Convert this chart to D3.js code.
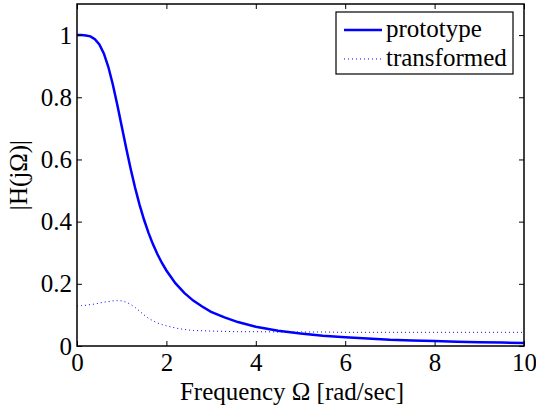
<!DOCTYPE html>
<html><head><meta charset="utf-8">
<script src="https://cdn.jsdelivr.net/npm/d3@7"></script>
<style>body{margin:0;background:#fff}svg{display:block}svg text{font-family:"Liberation Serif","Times New Roman",serif !important}</style>
</head><body><svg id="c" width="536" height="409"></svg>
<script>
const omega = [0,0.1,0.2,0.3,0.4,0.5,0.6,0.7,0.8,0.9,1.0,1.1,1.2,1.3,1.4,1.5,1.6,1.7,1.8,1.9,2.0,2.2,2.4,2.6,2.8,3.0,3.3,3.6,4.0,4.5,5.0,5.5,6.0,6.5,7.0,7.5,8.0,8.5,9.0,9.5,10.0];
const prototype = [1.000,1.000,0.999,0.996,0.987,0.970,0.941,0.898,0.842,0.777,0.707,0.637,0.570,0.509,0.454,0.406,0.364,0.327,0.295,0.267,0.243,0.202,0.171,0.146,0.127,0.110,0.092,0.077,0.062,0.049,0.040,0.033,0.028,0.024,0.020,0.018,0.016,0.014,0.012,0.011,0.010];
const transformed = [0.129,0.130,0.131,0.133,0.135,0.138,0.141,0.143,0.145,0.146,0.145,0.141,0.134,0.124,0.112,0.100,0.089,0.081,0.074,0.069,0.065,0.058,0.053,0.050,0.049,0.048,0.047,0.046,0.046,0.045,0.045,0.045,0.044,0.044,0.044,0.044,0.044,0.044,0.044,0.044,0.044];
const xTicks = [0,2,4,6,8,10];
const yTicks = [0,0.2,0.4,0.6,0.8,1];
const seriesNames = ["prototype","transformed"];

const svg = d3.select("#c");
const L=77,R=524,T=4,B=346;
const x = d3.scaleLinear().domain([0,10]).range([L,R]);
const y = d3.scaleLinear().domain([0,1.1]).range([B,T]);

const blue = "#0000ff";
const FS = 25;
const SERIF = '"Liberation Serif","Times New Roman",serif';
const line = d3.line().x((d,i)=>x(omega[i])).y(d=>y(d));
svg.append("path").datum(transformed).attr("d",line).attr("fill","none")
  .attr("stroke",blue).attr("stroke-width",1).attr("stroke-dasharray","1,3");
svg.append("path").datum(prototype).attr("d",line).attr("fill","none")
  .attr("stroke",blue).attr("stroke-width",2.5);

// axes box
svg.append("rect").attr("x",L).attr("y",T).attr("width",R-L).attr("height",B-T)
  .attr("fill","none").attr("stroke","#000").attr("stroke-width",1.5);

const tk=5;
const gx = svg.append("g").attr("transform",`translate(0,${B})`)
  .call(d3.axisBottom(x).tickValues(xTicks).tickSize(-tk).tickPadding(7).tickFormat(d3.format("d")));
const gxt = svg.append("g").attr("transform",`translate(0,${T})`)
  .call(d3.axisTop(x).tickValues(xTicks).tickSize(-tk).tickFormat(""));
const gy = svg.append("g").attr("transform",`translate(${L},0)`)
  .call(d3.axisLeft(y).tickValues(yTicks).tickSize(-tk).tickPadding(5).tickFormat(d=>d===0?"0":d===1?"1":d3.format(".1f")(d)));
const gyr = svg.append("g").attr("transform",`translate(${R},0)`)
  .call(d3.axisRight(y).tickValues(yTicks).tickSize(-tk).tickFormat(""));
[gx,gxt,gy,gyr].forEach(g=>{g.select(".domain").remove();
  g.attr("font-family",SERIF).attr("font-size",FS);
  g.selectAll(".tick line").attr("stroke","#000");
  g.selectAll("text").attr("font-size",FS).attr("fill","#000").style("font-family",SERIF);});

svg.append("text").attr("x",292).attr("y",400).attr("text-anchor","middle")
  .attr("font-size",FS).style("font-family",SERIF).text("Frequency Ω [rad/sec]");
svg.append("text").attr("transform",`translate(27,${(T+B)/2}) rotate(-90)`).attr("text-anchor","middle")
  .attr("font-size",FS).style("font-family",SERIF).text("|H(jΩ)|");

// legend
const lg = svg.append("g");
lg.append("rect").attr("x",336).attr("y",12).attr("width",177).attr("height",62)
  .attr("fill","#fff").attr("stroke","#000").attr("stroke-width",1.2);
const rows=[{y:30,w:2.5,da:null},{y:59,w:1,da:"1,3"}];
rows.forEach((r,i)=>{
  lg.append("line").attr("x1",344).attr("x2",382).attr("y1",r.y).attr("y2",r.y)
    .attr("stroke",blue).attr("stroke-width",r.w).attr("stroke-dasharray",r.da);
  lg.append("text").attr("x",386).attr("y",r.y+7).attr("font-size",FS).style("font-family",SERIF).text(seriesNames[i]);
});
</script></body></html>
